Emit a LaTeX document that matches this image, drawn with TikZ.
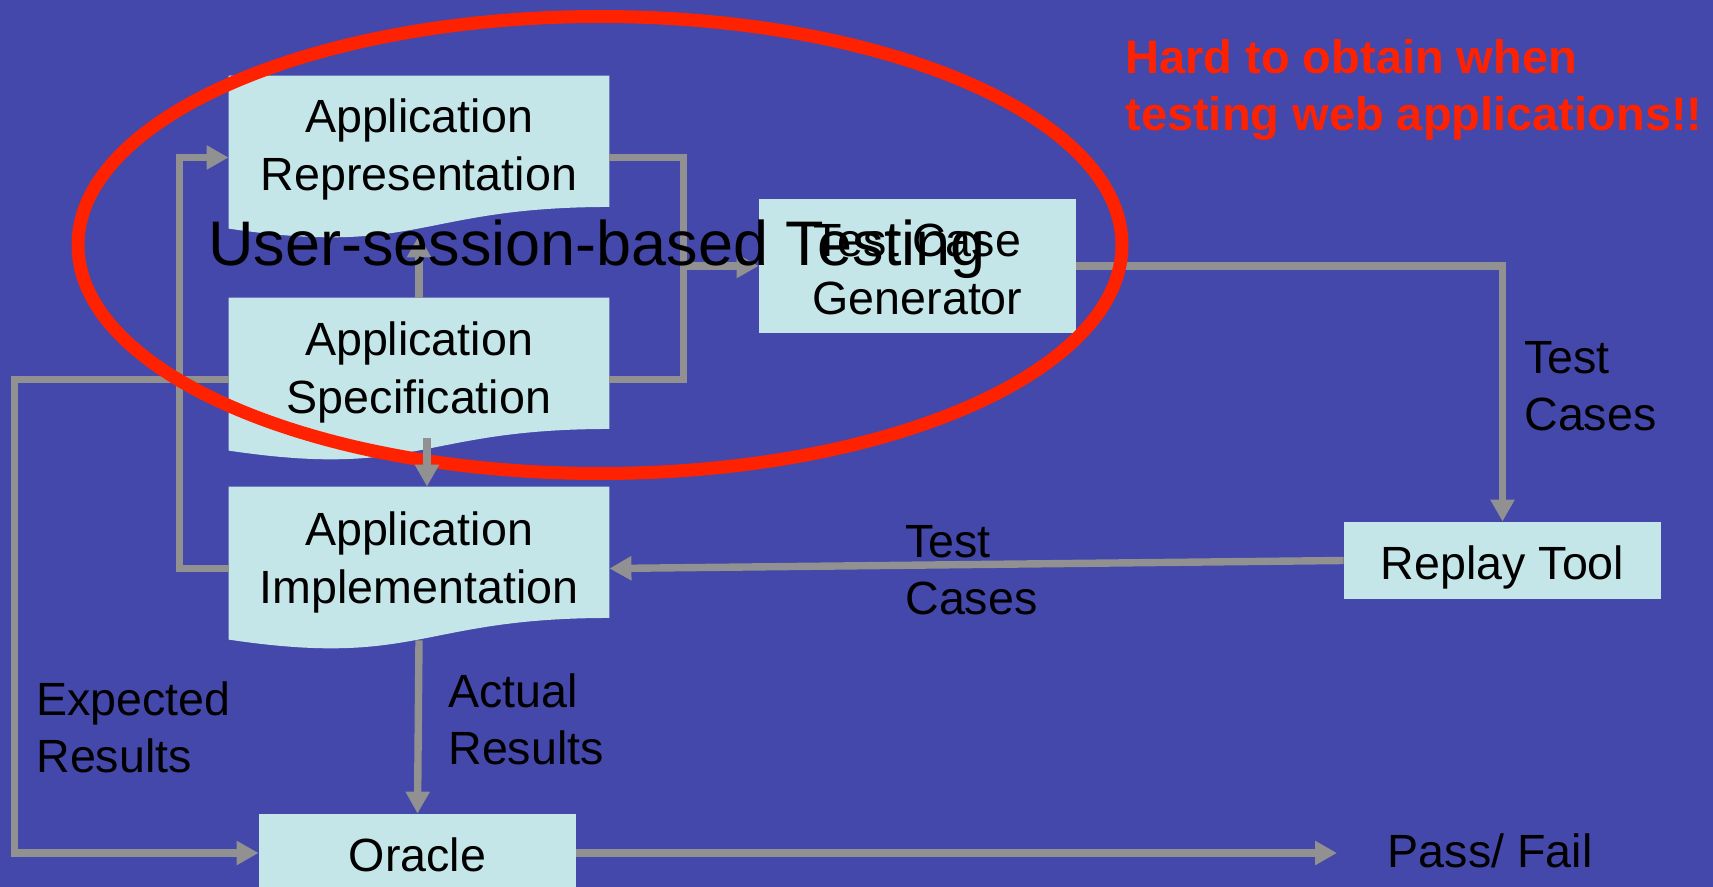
\documentclass[tikz,border=0pt]{standalone}
\usepackage{fontspec}
\setmainfont{Liberation Sans}
\usetikzlibrary{arrows.meta,calc}

\definecolor{slidebg}{RGB}{67,72,170}
\definecolor{boxfill}{RGB}{196,230,233}
\definecolor{linkgray}{RGB}{145,145,145}
\definecolor{alertred}{RGB}{255,34,0}

% flowchart "document" outline: straight top and sides, wavy bottom
\newcommand\docfill[1]{%
  \fill[boxfill] (#1.north west) -- (#1.north east)
    -- ($(#1.north east)!0.802!(#1.south east)$)
    .. controls ($(#1.north)!0.802!(#1.south)$) and ($(#1.north)!1.1075!(#1.south)$)
    .. ($(#1.north west)!0.934!(#1.south west)$) -- cycle;}

\begin{document}
\begin{tikzpicture}[x=0.5pt,y=-0.5pt,
  docbox/.style={rectangle, inner sep=0pt, minimum width=190pt, minimum height=81.5pt},
  plainbox/.style={rectangle, fill=boxfill, inner sep=0pt, minimum width=158.5pt},
  boxtext/.style={font=\fontsize{23.3}{29}\selectfont, align=center, inner sep=0pt},
  annot/.style={font=\fontsize{23.3}{28.5}\selectfont, align=left, inner sep=0pt, anchor=west},
  link/.style={draw=linkgray, line width=3.7pt},
  arr/.style={link, -{Triangle[width=11.5pt,length=11pt]}}]

\useasboundingbox (0,0) rectangle (1713,887);
\clip (0,0) rectangle (1713,887);
\fill[slidebg] (0,0) rectangle (1713,887);

% shapes
\node[docbox] (rep)  at (419,157.5) {};
\node[docbox] (spec) at (419,379.5) {};
\node[docbox] (impl) at (419,568.5) {};
\docfill{rep}
\docfill{spec}
\docfill{impl}
\node[plainbox, minimum height=67pt]   (tcg)    at (917.5,266) {};
\node[plainbox, minimum height=38.5pt] (replay) at (1502.5,560.5) {};
\node[plainbox, minimum height=39pt]   (oracle) at (417.5,853) {};

% connectors
\draw[link] (rep.east) -- ++(74,0) |- (spec.east);
\coordinate (fork) at (683,266);
\draw[arr] (fork) -- (tcg.west);
\draw[arr] (spec.north) -- ([yshift=2pt]rep.south);
\draw[arr] (impl.west) -- ++(-49,0) |- (rep.west);
\draw[arr] (spec.west) -- ++(-214,0) |- (oracle.west);
\draw[arr] (tcg.east) -| (replay.north);
\draw[arr] (replay.west) -- (impl.east);
\draw[arr] ([yshift=5pt]impl.south) -- (oracle.north);
\coordinate (pfend) at (1337,853);
\draw[arr] (oracle.east) -- (pfend);

% box captions
\node[boxtext] (rep-t)    at (419,149)      {Application\\Representation};
\node[boxtext] (spec-t)   at (419,372)      {Application\\Specification};
\node[boxtext] (impl-t)   at (419,562)      {Application\\Implementation};
\node[boxtext] (tcg-t)    at (917.5,269)    {Test Case\\Generator};
\node[boxtext] (replay-t) at (1502.5,567.5) {Replay Tool};
\node[boxtext] (oracle-t) at (417.5,855)    {Oracle};

% highlight ring
\draw[alertred, line width=6.5pt] (600,245) ellipse [x radius=261pt, y radius=114.25pt];
\draw[arr] ([xshift=4pt,yshift=11.5pt]spec.south) -- ([xshift=4pt]impl.north);

% edge labels
\node[annot] (tc-right)  at (1524,386.5) {Test\\Cases};
\node[annot] (tc-mid)    at (905,570)    {Test\\Cases};
\node[annot] (actual)    at (448,719)    {Actual\\Results};
\node[annot] (expected)  at (36,727.5)   {Expected\\Results};
\node[annot] (passfail)  at (1387.5,851) {Pass/ Fail};

% callouts
\node[font=\fontsize{23.5}{28.75}\selectfont\bfseries, text=alertred, align=left,
      inner sep=0pt, anchor=north west] (hard) at (1125,39)
  {Hard to obtain when\\testing web applications!!};
\node[font=\fontsize{31.5}{36}\selectfont, inner sep=0pt, anchor=base west] (usbt)
  at (208,265.5) {User-session-based Testing};
\end{tikzpicture}
\end{document}
